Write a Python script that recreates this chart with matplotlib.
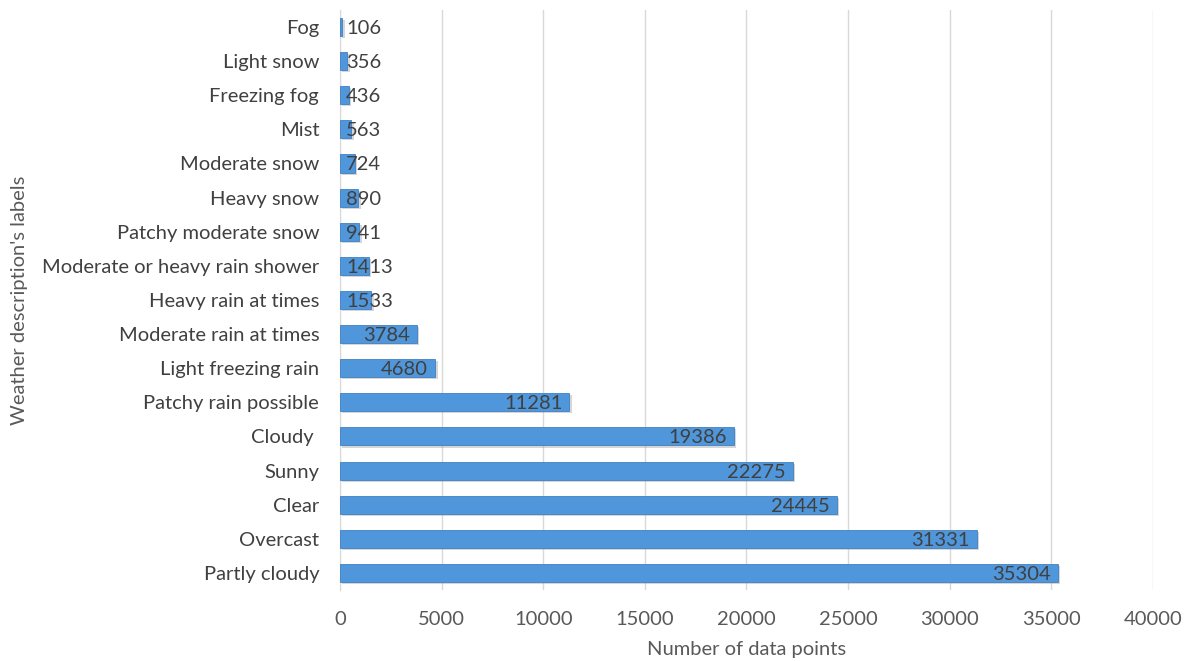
import matplotlib.pyplot as plt
import numpy as np

# weather description counts, bottom to top
labels = ["Partly cloudy", "Overcast", "Clear", "Sunny", "Cloudy ", "Patchy rain possible",
          "Light freezing rain", "Moderate rain at times", "Heavy rain at times",
          "Moderate or heavy rain shower", "Patchy moderate snow", "Heavy snow",
          "Moderate snow", "Mist", "Freezing fog", "Light snow", "Fog"]
counts = [35304, 31331, 24445, 22275, 19386, 11281, 4680, 3784, 1533,
          1413, 941, 890, 724, 563, 436, 356, 106]

plt.rcParams['font.family'] = ['Lato', 'DejaVu Sans']
fs = 14.5

fig = plt.figure(figsize=(11.88, 6.61), dpi=100)
ax = fig.add_axes([0.2862, 0.1074, 0.6843, 0.8776])

y = np.arange(len(labels))
# soft drop shadow under each bar
ax.barh(y - 0.06, counts, left=120, height=0.53, color='#9a9a9a', alpha=0.4, zorder=2)
ax.barh(y, counts, height=0.53, color='#5096da', edgecolor='#3f80c4', linewidth=0.6, zorder=3)

ax.set_xlim(0, 40000)
ax.set_ylim(-0.5, len(labels) - 0.5)
ax.set_xticks(np.arange(0, 40001, 5000))
ax.set_yticks(y)
ax.set_yticklabels(labels, va='center_baseline')
ax.tick_params(axis='both', length=0, labelsize=fs, colors='#595959', labelcolor='#404040')
ax.tick_params(axis='x', pad=15, labelcolor='#595959')
ax.tick_params(axis='y', pad=15)
ax.grid(axis='x', color='#d9d9d9', linewidth=1, zorder=0)
for s in ['top', 'right', 'bottom']:
    ax.spines[s].set_visible(False)
ax.spines['left'].set_color('#d9d9d9')

ax.set_xlabel("Number of data points", fontsize=fs, color='#595959', va='center')
ax.xaxis.set_label_coords(0.5, -0.102)
ax.set_ylabel("Weather description's labels", fontsize=fs, color='#595959', va='center')
ax.yaxis.set_label_coords(-0.394, 0.5)

# value labels at the inside end of the bar, pushed right when the bar is too short
fig.canvas.draw()
renderer = fig.canvas.get_renderer()
px_per_unit = ax.transData.transform((1, 0))[0] - ax.transData.transform((0, 0))[0]
for yi, v in zip(y, counts):
    t = ax.text(v, yi, str(v), fontsize=fs, color='#404040', va='center_baseline', ha='right', zorder=4)
    w = t.get_window_extent(renderer).width / px_per_unit
    pad = 7 / px_per_unit
    if v - w - pad < 300:
        t.set_x(300)
        t.set_ha('left')
    else:
        t.set_x(v - pad)

fig.savefig("out.png", dpi=100)
